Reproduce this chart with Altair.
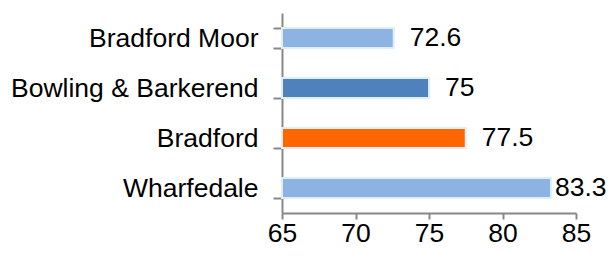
import altair as alt
import pandas as pd

categories = ["Bradford Moor", "Bowling & Barkerend", "Bradford", "Wharfedale"]
values = [72.6, 75, 77.5, 83.3]
colors = ["#8DB3E2", "#4F81BD", "#FF6600", "#8DB3E2"]
x_ticks = [65, 70, 75, 80, 85]

df = pd.DataFrame({"cat": categories, "val": values, "col": colors})

FONT = "Liberation Sans"
FS = 26.5

y_enc = alt.Y(
    "cat:N",
    sort=categories,
    title=None,
    scale=alt.Scale(paddingInner=0.6, paddingOuter=0.3),
    axis=alt.Axis(
        labelFont=FONT, labelFontSize=FS, labelColor="#000000",
        labelPadding=15, tickSize=9, tickColor="#888888", tickWidth=2,
        domainColor="#888888", domainWidth=2, tickBand="extent",
        labelLimit=400, grid=False,
    ),
)
x_enc = alt.X(
    "val:Q",
    title=None,
    scale=alt.Scale(domain=[65, 85], nice=False),
    axis=alt.Axis(
        values=x_ticks, labelFont=FONT, labelFontSize=FS, labelColor="#000000",
        labelPadding=1, tickSize=6, tickColor="#888888", tickWidth=2,
        domainColor="#888888", domainWidth=2, grid=False, labelFlush=False,
    ),
)

base = alt.Chart(df).encode(y=y_enc, x=x_enc)

bars = base.mark_bar(stroke="#DCEFF7", strokeWidth=2).encode(
    x2=alt.datum(65),
    color=alt.Color("col:N", scale=None),
)

labels_main = base.transform_filter("datum.val < 80").mark_text(
    align="left", baseline="middle", dx=16, font=FONT, fontSize=FS, color="#000000"
).encode(text=alt.Text("val:Q", format="~g"))

labels_end = base.transform_filter("datum.val >= 80").mark_text(
    align="left", baseline="middle", dx=4, font=FONT, fontSize=FS, color="#000000"
).encode(text=alt.Text("val:Q", format="~g"))

chart = alt.layer(bars, labels_main, labels_end).properties(
    width=294,
    height=200,
    background="#FFFFFF",
    padding={"left": 274, "top": 5, "right": 30, "bottom": 37},
    autosize=alt.AutoSizeParams(type="none"),
).configure_view(strokeWidth=0, stroke="transparent").configure_axis(grid=False)

chart.save("out.html", embed_options={"renderer": "svg", "actions": False})
